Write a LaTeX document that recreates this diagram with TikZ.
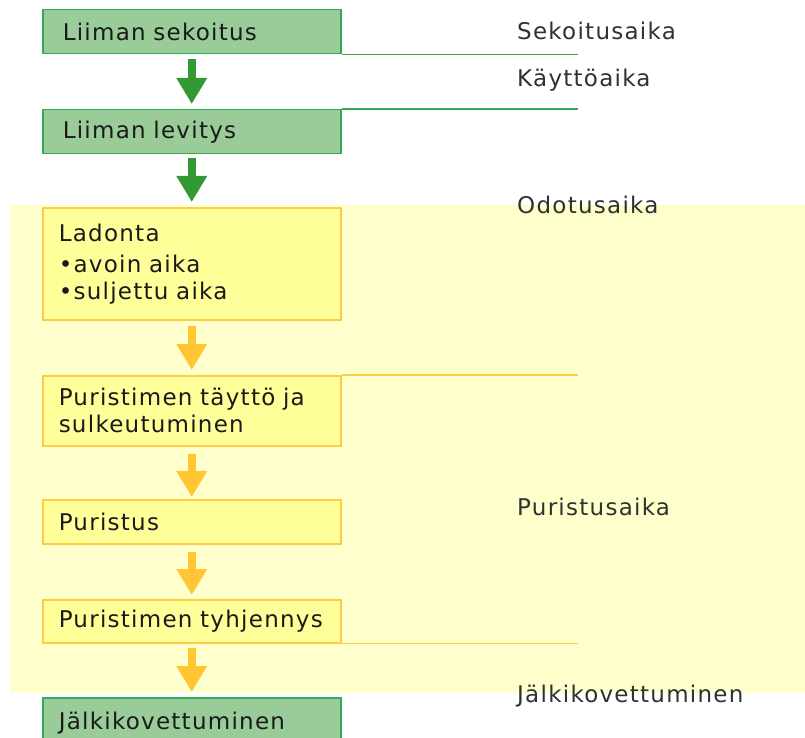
\documentclass[tikz,border=0pt]{standalone}
\usepackage{fontspec}
\setmainfont{DejaVu Sans}[LetterSpace=5.5]
\usetikzlibrary{arrows.meta}
\definecolor{gfill}{HTML}{99CC99}
\definecolor{gline}{HTML}{33AA55}
\definecolor{garrow}{HTML}{339933}
\definecolor{yfill}{HTML}{FFFF99}
\definecolor{yline}{HTML}{FFCC44}
\definecolor{yarrow}{HTML}{FFC533}
\definecolor{bandc}{HTML}{FFFFCC}
\definecolor{txt}{HTML}{1A1A1A}
\begin{document}
\begin{tikzpicture}[x=1pt,y=-1pt,
  box/.style={draw, line width=1.5pt, anchor=north west, inner ysep=0pt,
    align=left, font=\fontsize{23}{27}\selectfont, text=txt},
  gbox/.style={box, draw=gline, fill=gfill, inner xsep=20pt, text width=258pt, minimum height=44pt},
  ybox/.style={box, draw=yline, fill=yfill, inner xsep=16pt, text width=266pt},
  gbox2/.style={box, draw=gline, fill=gfill, inner xsep=16pt, text width=266pt, minimum height=44pt},
  garr/.style={draw=garrow, line width=8pt, -{Triangle[width=29pt,length=26pt]}},
  yarr/.style={draw=yarrow, line width=8pt, -{Triangle[width=29pt,length=26pt]}},
  gsep/.style={draw=gline, line width=1.5pt},
  ysep/.style={draw=yline, line width=1.5pt},
  lab/.style={anchor=west, inner sep=0pt, font=\fontsize{23}{27}\selectfont, text=txt!90!white},
]
\useasboundingbox (0,0) rectangle (805,738);
\fill[bandc] (10,205) rectangle (805,693);

\node[gbox] (b1) at (42,9) {Liiman sekoitus};
\node[gbox] (b2) at (42,109) {Liiman levitys};
\node[ybox, minimum height=112pt] (b3) at (42,207) {Ladonta\\[4pt]•avoin aika\\•suljettu aika};
\node[ybox, minimum height=70pt] (b4) at (42,375) {Puristimen täyttö ja\\sulkeutuminen};
\node[ybox, minimum height=44pt] (b5) at (42,499) {Puristus};
\node[ybox, minimum height=43pt] (b6) at (42,599) {Puristimen tyhjennys};
\node[gbox2, minimum height=50pt] (b7) at (42,697) {\raisebox{3pt}{Jälkikovettuminen}};

\coordinate (e1) at (578,53);
\coordinate (e2) at (578,109);
\coordinate (e4) at (578,376);
\coordinate (e6) at (578,642);
\draw[gsep] (b1.south east) -- (b1.south east -| e1);
\draw[gsep] (b2.north east) -- (b2.north east -| e2);
\draw[ysep] (b4.north east) -- (b4.north east -| e4);
\draw[ysep] (b6.south east) -- (b6.south east -| e6);

\draw[garr] ([yshift=-5pt]b1.south) -- ([yshift=5pt]b2.north);
\draw[garr] ([yshift=-4pt]b2.south) -- ([yshift=5pt]b3.north);
\draw[yarr] ([yshift=-5pt]b3.south) -- ([yshift=5pt]b4.north);
\draw[yarr] ([yshift=-7pt]b4.south) -- ([yshift=2pt]b5.north);
\draw[yarr] ([yshift=-7pt]b5.south) -- ([yshift=4pt]b6.north);
\draw[yarr] ([yshift=-4pt]b6.south) -- ([yshift=5pt]b7.north);

\node[lab] (l1) at (517,31) {Sekoitusaika};
\node[lab] (l2) at (517,80) {Käyttöaika};
\node[lab] (l3) at (517,205) {Odotusaika};
\node[lab] (l4) at (517,507) {Puristusaika};
\node[lab] (l5) at (517,696) {Jälkikovettuminen};
\end{tikzpicture}
\end{document}
